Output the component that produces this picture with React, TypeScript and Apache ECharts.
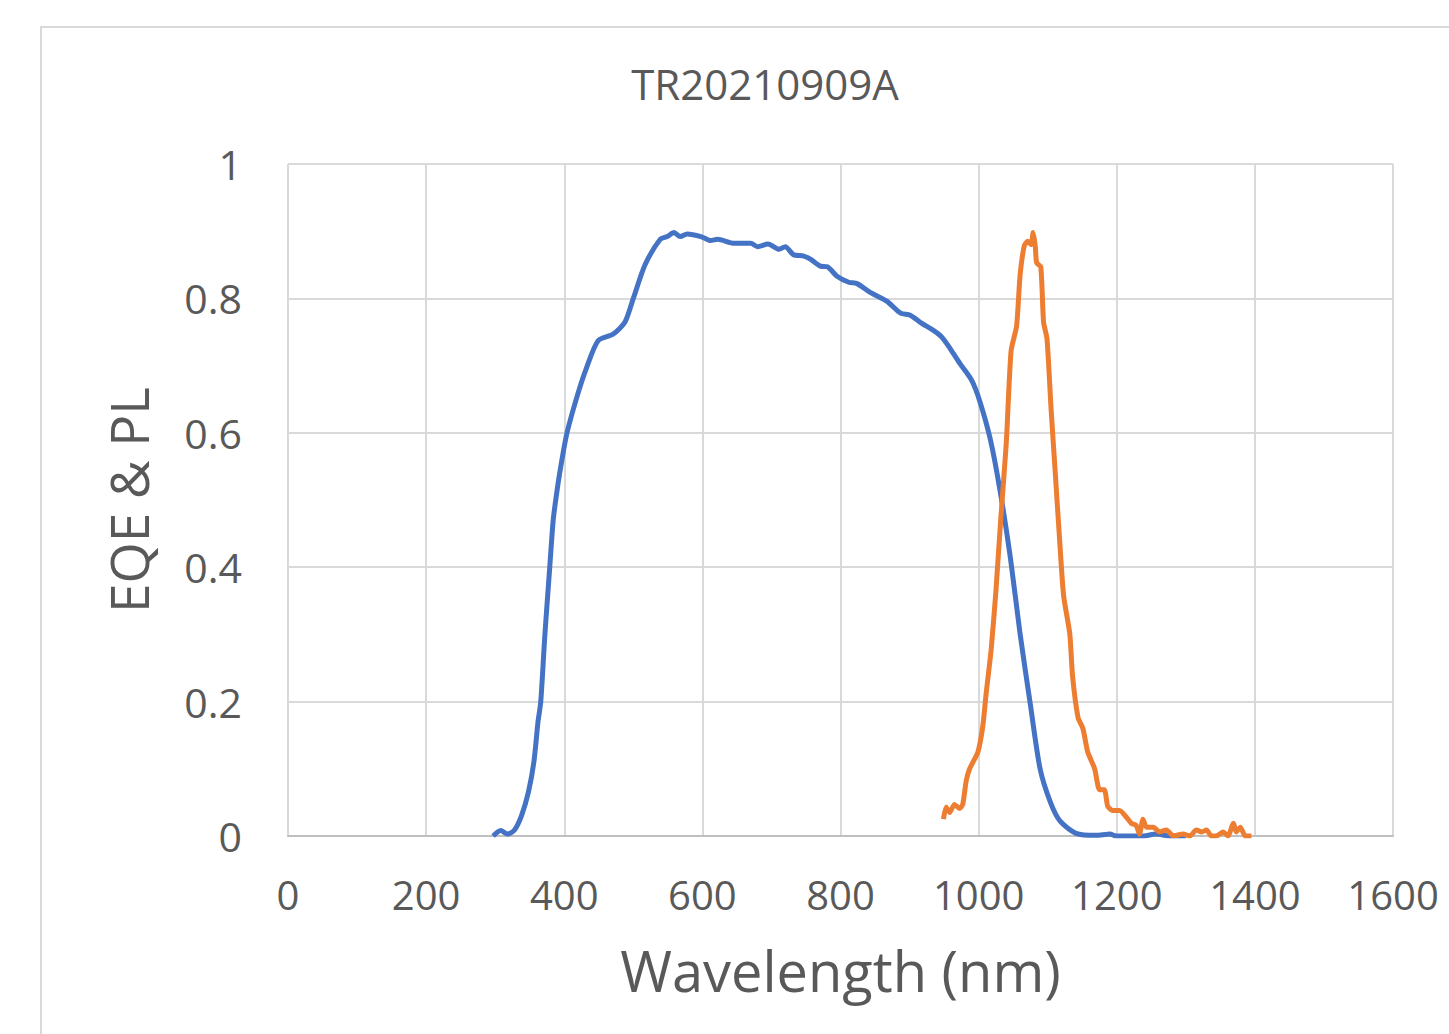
import React, { useEffect, useRef } from "react";
import * as echarts from "echarts";

const TITLE = "TR20210909A";
const X_TITLE = "Wavelength (nm)";
const Y_TITLE = "EQE & PL";

const eqeWavelength = [
  297, 308, 318, 328, 338, 348, 356, 362, 366, 372, 379, 384, 389, 395, 404,
  420, 432, 449, 471, 488, 500, 517, 539, 549, 559, 568, 578, 598, 612, 622,
  646, 670, 680, 695, 711, 720, 732, 747, 757, 771, 781, 795, 812, 824, 843,
  867, 887, 901, 916, 935, 947, 959, 973, 990, 1002, 1017, 1031, 1046, 1060,
  1075, 1089, 1104, 1118, 1141, 1170, 1190, 1199, 1238, 1257, 1277, 1300,
];
const eqeValue = [
  0.0, 0.008, 0.003, 0.009, 0.03, 0.065, 0.11, 0.17, 0.2, 0.3, 0.4, 0.47, 0.51,
  0.55, 0.6, 0.659, 0.696, 0.737, 0.747, 0.765, 0.8, 0.85, 0.888, 0.892, 0.898,
  0.892, 0.896, 0.892, 0.886, 0.888, 0.882, 0.882, 0.877, 0.881, 0.873, 0.877,
  0.865, 0.863, 0.858, 0.848, 0.847, 0.833, 0.824, 0.822, 0.809, 0.796, 0.778,
  0.775, 0.764, 0.752, 0.742, 0.725, 0.703, 0.678, 0.646, 0.59, 0.514, 0.414,
  0.301, 0.195, 0.1, 0.05, 0.022, 0.004, 0.001, 0.003, 0.0, 0.0, 0.003, 0.0, 0.0,
];

const plWavelength = [
  949, 953, 958, 965, 972, 977, 982, 987, 999, 1006, 1011, 1018, 1025, 1032,
  1040, 1047, 1055, 1060, 1066, 1071, 1076, 1079, 1082, 1084, 1090, 1094, 1099,
  1105, 1111, 1117, 1123, 1132, 1136, 1144, 1151, 1158, 1168, 1175, 1182, 1187,
  1194, 1204, 1214, 1221, 1228, 1233, 1238, 1243, 1253, 1262, 1272, 1282, 1296,
  1306, 1315, 1323, 1330, 1337, 1344, 1354, 1361, 1369, 1373, 1379, 1386, 1395,
];
const plValue = [
  0.025, 0.043, 0.035, 0.047, 0.041, 0.047, 0.082, 0.1, 0.125, 0.163, 0.213,
  0.276, 0.364, 0.471, 0.584, 0.722, 0.759, 0.834, 0.878, 0.885, 0.88, 0.898,
  0.878, 0.853, 0.847, 0.765, 0.74, 0.634, 0.54, 0.445, 0.358, 0.301, 0.238,
  0.176, 0.16, 0.125, 0.1, 0.069, 0.069, 0.044, 0.038, 0.038, 0.028, 0.019,
  0.016, 0.003, 0.025, 0.013, 0.013, 0.006, 0.009, 0.0, 0.003, 0.0, 0.009,
  0.006, 0.009, 0.0, 0.0, 0.006, 0.0, 0.019, 0.006, 0.013, 0.0, 0.0,
];

const X_MIN = 0;
const X_MAX = 1600;
const X_STEP = 200;
const Y_MIN = 0;
const Y_MAX = 1;
const Y_STEP = 0.2;

const FONT = "'Open Sans', sans-serif";
const TEXT_COLOR = "#595959";
const GRID_COLOR = "#d9d9d9";

export default function App() {
  const ref = useRef<HTMLDivElement>(null);

  useEffect(() => {
    if (!ref.current) return;
    const chart = echarts.init(ref.current, undefined, { renderer: "svg" });
    const eqeData = eqeWavelength.map((x, i) => [x, eqeValue[i]]);
    const plData = plWavelength.map((x, i) => [x, plValue[i]]);

    chart.setOption({
      animation: false,
      backgroundColor: "#ffffff",
      textStyle: { fontFamily: FONT },
      title: {
        text: TITLE,
        left: 760,
        top: 57,
        textAlign: "center",
        textStyle: {
          fontFamily: FONT,
          fontSize: 42,
          fontWeight: "normal",
          color: TEXT_COLOR,
        },
      },
      graphic: [
        {
          type: "rect",
          shape: { x: 41, y: 27, width: 1460, height: 1060 },
          style: { fill: "none", stroke: GRID_COLOR, lineWidth: 2 },
          silent: true,
        },
      ],
      grid: { left: 288, top: 164, right: 56, bottom: 198, containLabel: false },
      xAxis: {
        type: "value",
        min: X_MIN,
        max: X_MAX,
        interval: X_STEP,
        name: X_TITLE,
        nameLocation: "middle",
        nameGap: 106,
        nameTextStyle: { fontFamily: FONT, fontSize: 56, color: TEXT_COLOR },
        axisLine: { show: true, lineStyle: { color: "#bfbfbf", width: 2 } },
        axisTick: { show: false },
        axisLabel: {
          fontFamily: FONT,
          fontSize: 40,
          color: TEXT_COLOR,
          margin: 38,
          formatter: (v: number) => String(v),
        },
        splitLine: { show: true, lineStyle: { color: GRID_COLOR, width: 2 } },
      },
      yAxis: {
        type: "value",
        min: Y_MIN,
        max: Y_MAX,
        interval: Y_STEP,
        name: Y_TITLE,
        nameLocation: "middle",
        nameGap: 133,
        nameRotate: 90,
        nameTextStyle: { fontFamily: FONT, fontSize: 53, color: TEXT_COLOR },
        axisLine: { show: false },
        axisTick: { show: false },
        axisLabel: {
          fontFamily: FONT,
          fontSize: 41,
          color: TEXT_COLOR,
          margin: 46,
        },
        splitLine: { show: true, lineStyle: { color: GRID_COLOR, width: 2 } },
      },
      series: [
        {
          name: "EQE",
          type: "line",
          data: eqeData,
          smooth: 0.25,
          showSymbol: false,
          symbol: "none",
          lineStyle: { color: "#4472C4", width: 5 },
          itemStyle: { color: "#4472C4" },
          z: 2,
        },
        {
          name: "PL",
          type: "line",
          data: plData,
          smooth: 0.2,
          showSymbol: false,
          symbol: "none",
          lineStyle: { color: "#ED7D31", width: 5 },
          itemStyle: { color: "#ED7D31" },
          z: 3,
        },
      ],
    });

    return () => chart.dispose();
  }, []);

  return (
    <div
      ref={ref}
      style={{ position: "fixed", left: 0, top: 0, width: 1449, height: 1034 }}
    />
  );
}
